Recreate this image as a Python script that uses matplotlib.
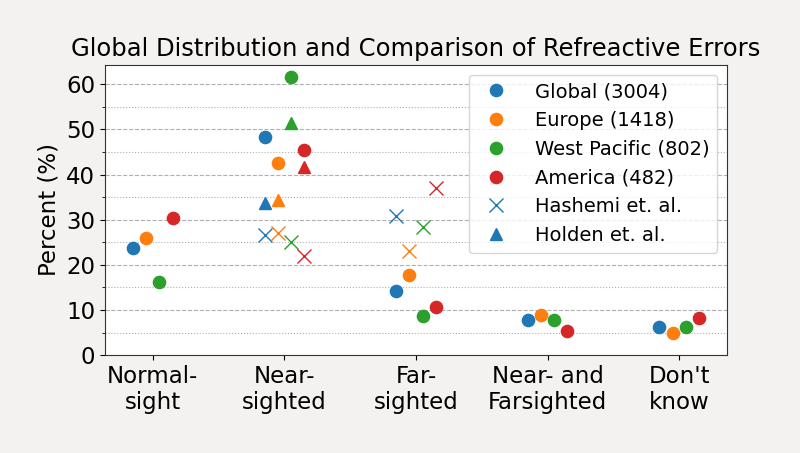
from matplotlib import pyplot as plt
from matplotlib.ticker import MultipleLocator
import numpy as np

categories = ['Normal-\nsight', 'Near-\nsighted', 'Far-\nsighted', 'Near- and\nFarsighted', "Don't\nknow"]
regions = ['Global (3004)', 'Europe (1418)', 'West Pacific (802)', 'America (482)']
region_colors = ['#1f77b4', '#ff7f0e', '#2ca02c', '#d62728']

# survey values, percent per category
survey = {
    'Global (3004)': [23.8, 48.2, 14.2, 7.7, 6.3],
    'Europe (1418)': [25.9, 42.6, 17.8, 8.9, 4.9],
    'West Pacific (802)': [16.3, 61.5, 8.7, 7.7, 6.3],
    'America (482)': [30.3, 45.5, 10.6, 5.4, 8.3],
}
# literature reference values per region
hashemi_near = [26.6, 27.1, 25.0, 22.0]
hashemi_far = [30.8, 23.1, 28.4, 37.1]
holden_near = [33.6, 34.3, 51.3, 41.7]

offsets = [-0.15, -0.05, 0.05, 0.15]

fig = plt.figure(figsize=(8, 4.53), dpi=100, facecolor='#f3f2f0')
ax = fig.add_subplot(111)
ax.set_facecolor('white')

x = np.arange(len(categories))
for i, name in enumerate(regions):
    ax.plot(x + offsets[i], survey[name], 'o', color=region_colors[i],
            markersize=8.8, label=name, zorder=3)

for i in range(len(regions)):
    ax.plot([1 + offsets[i], 2 + offsets[i]], [hashemi_near[i], hashemi_far[i]], 'x',
            color=region_colors[i], markersize=10, markeredgewidth=1.0,
            label='Hashemi et. al.' if i == 0 else None, zorder=3)
for i in range(len(regions)):
    ax.plot(1 + offsets[i], holden_near[i], '^', color=region_colors[i],
            markersize=9, label='Holden et. al.' if i == 0 else None, zorder=3)

ax.set_xticks(x)
ax.set_xticklabels(categories, fontsize=16.5)
ax.set_ylim(0, 64.3)
ax.yaxis.set_major_locator(MultipleLocator(10))
ax.yaxis.set_minor_locator(MultipleLocator(5))
ax.tick_params(axis='y', labelsize=16.5)
ax.set_ylabel('Percent (%)', fontsize=16.5)
ax.set_title('Global Distribution and Comparison of Refreactive Errors', fontsize=17.5)

ax.grid(True, axis='y', which='major', linestyle='--', color='#b0b0b0', linewidth=0.8)
ax.grid(True, axis='y', which='minor', linestyle=':', color='#b0b0b0', linewidth=0.8)
ax.set_axisbelow(True)
for s in ax.spines.values():
    s.set_color('#333333')

ax.legend(loc='upper right', fontsize=14, handletextpad=1.0)

fig.subplots_adjust(left=0.131, right=0.909, top=0.857, bottom=0.216)
fig.savefig('out.png', dpi=100, facecolor=fig.get_facecolor())
